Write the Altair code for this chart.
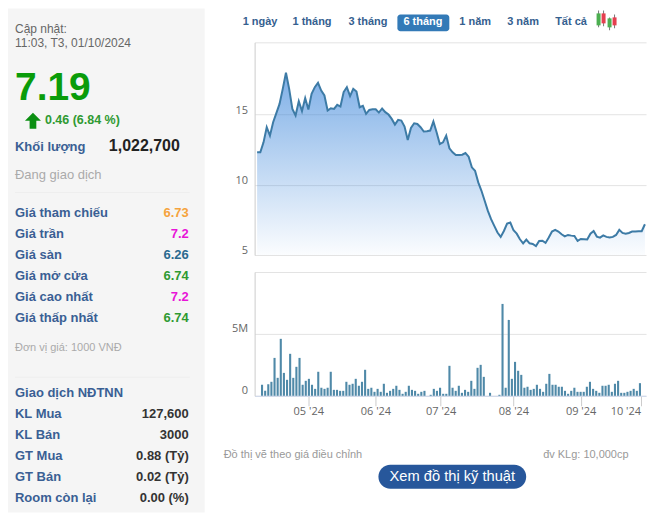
import json
import altair as alt
import pandas as pd

# Price series (thousand VND), one value per trading day
prices = [12.31,12.31,13.02,14.10,13.50,14.45,15.10,15.76,16.83,17.98,
          16.83,15.40,14.93,15.95,15.24,16.17,15.36,16.48,16.95,17.26,
          16.71,16.36,15.29,15.45,15.40,15.69,15.57,16.60,16.95,16.31,
          16.83,16.64,15.52,15.62,15.05,15.33,15.38,15.38,15.14,15.43,
          15.17,15.00,14.69,14.29,14.62,14.57,14.14,13.19,14.05,14.38,
          14.33,14.10,13.79,13.81,13.86,14.50,13.74,12.90,13.02,13.50,
          12.60,12.31,12.12,12.12,12.14,12.26,12.00,11.24,11.00,10.17,
          9.57,8.86,8.14,7.55,7.07,6.60,6.29,6.71,7.24,7.31,
          6.76,6.52,6.12,5.83,6.10,5.83,5.79,5.64,6.00,6.02,
          5.86,6.24,6.67,6.79,6.67,6.48,6.33,6.43,6.38,6.36,
          6.00,6.14,6.12,6.10,6.52,6.71,6.31,6.24,6.40,6.29,
          6.24,6.29,6.43,6.79,6.57,6.52,6.57,6.67,6.67,6.69,
          6.69,7.19]
# Volume (millions of shares)
volumes = [.89,.40,.94,1.13,3.06,1.45,4.60,1.85,1.29,3.39,
           1.45,2.34,3.06,.89,1.21,1.37,.89,.56,1.94,.65,
           .56,.65,1.94,.48,.48,.40,.40,1.13,.89,.97,
           1.37,.81,1.13,2.10,.56,.65,.32,.56,.32,.97,
           .24,.40,.56,.81,.48,.16,.32,.81,.48,.40,
           .16,.32,.40,0,.08,.56,.40,.65,.16,.16,
           2.42,.65,.40,.81,.24,.48,.32,1.21,.56,2.26,
           2.50,1.53,0,.24,0,0,.08,7.42,.65,6.13,
           1.37,2.74,2.02,1.69,.65,.73,.48,.56,.89,.56,
           .32,.97,1.77,.89,.89,.73,.73,.40,.16,.40,
           .65,.32,.32,.32,.73,1.13,.56,.40,.24,.81,
           .81,.89,.32,.97,1.21,.24,.24,.32,.40,.56,
           .40,1.02]
month_ticks = [14.8, 36.3, 57.2, 80.5, 102.0, 121.2]
month_labels = ["05 '24", "06 '24", "07 '24", "08 '24", "09 '24", "10 '24"]
range_buttons = ["1 ngày", "1 tháng", "3 tháng", "6 tháng", "1 năm", "3 năm", "Tất cả"]
price_rows = [("Giá tham chiếu", "6.73", "#f5a33d"), ("Giá trần", "7.2", "#e815d8"),
              ("Giá sàn", "6.26", "#2b6a8f"), ("Giá mở cửa", "6.74", "#2f9a32"),
              ("Giá cao nhất", "7.2", "#e815d8"), ("Giá thấp nhất", "6.74", "#2f9a32")]
foreign_rows = [("KL Mua", "127,600"), ("KL Bán", "3000"), ("GT Mua", "0.88 (Tỷ)"),
                ("GT Bán", "0.02 (Tỷ)"), ("Room còn lại", "0.00 (%)")]

df = pd.DataFrame({"i": range(len(prices)), "price": prices, "floor": [5] * len(prices),
                   "volume": [v * 1e6 for v in volumes]})
one = pd.DataFrame({"a": [0]})
FONT = "Liberation Sans"
BLUE = "#3a5f94"
PW = 392
X_DOMAIN = [-0.78, 121.34]
xs = alt.Scale(domain=X_DOMAIN, nice=False, zero=False)


def txt(s, x, y, color="#333", size=13, weight="normal", align="left", font=FONT):
    return alt.Chart(one).mark_text(align=align, baseline="middle", font=font, fontSize=size,
                                    fontWeight=weight, color=color).encode(
        x=alt.value(x - 8), y=alt.value(y - 8), text=alt.value(s))


def box(x0, x1, y0, y1, color, radius=0, dy=8):
    return alt.Chart(one).mark_bar(color=color, cornerRadius=radius).encode(
        x=alt.value(x0 - 8), x2=alt.value(x1 - 8), y=alt.value(y0 - dy), y2=alt.value(y1 - dy))


arrow = alt.Chart(one).mark_point(
    shape="M 0 -1 L 1 0 L 0.42 0 L 0.42 1 L -0.42 1 L -0.42 0 L -1 0 Z",
    filled=True, size=256, color="#0b8f12", opacity=1).encode(x=alt.value(25), y=alt.value(112.5))

side_layers = [box(8, 205, 8, 513, "#f5f5f5"),
               txt("Cập nhật:", 15, 29, "#666", 12),
               txt("11:03, T3, 01/10/2024", 15, 43, "#666", 12),
               txt("7.19", 15, 88, "#0a9c0a", 39, "bold"),
               arrow,
               txt("0.46 (6.84 %)", 45, 120, "#2f9a32", 12.5, "bold"),
               txt("Khối lượng", 15, 147, BLUE, 13, "bold"),
               txt("1,022,700", 109, 146, "#222", 16, "bold"),
               txt("Đang giao dịch", 15, 175, "#aaa", 13),
               box(15, 190, 192, 193, "#eeeeee"),
               txt("Đơn vị giá: 1000 VNĐ", 15, 348, "#aaa", 11),
               box(15, 190, 377, 378, "#eeeeee"),
               txt("Giao dịch NĐTNN", 15, 393, BLUE, 13, "bold"),
               txt("Đồ thị vẽ theo giá điều chỉnh", 224, 455, "#999", 11)]
for k, (label, val, col) in enumerate(price_rows):
    y = 213 + 21 * k
    side_layers += [txt(label, 15, y, BLUE, 13, "bold"), txt(val, 189, y, col, 13, "bold", "right")]
for k, (label, val) in enumerate(foreign_rows):
    y = 414 + 21 * k
    side_layers += [txt(label, 15, y, BLUE, 13, "bold"), txt(val, 189, y, "#333", 13, "bold", "right")]
side = alt.layer(*side_layers).properties(width=247, height=505)

# Top strip: range buttons and candlestick icon (x relative to the right column)
def rtxt(s, x, y, **kw):
    return txt(s, x - 247, y, **kw)


def rbox(x0, x1, y0, y1, color, radius=0, dy=8):
    return box(x0 - 247, x1 - 247, y0, y1, color, radius, dy)


button_x = [243, 293, 349, 404, 460, 508, 556]
top_layers = [rbox(398, 450, 14, 31, "#337ab7", 3)]
for b, x in zip(range_buttons, button_x):
    top_layers.append(rtxt(b, x, 22, color="#fff" if b == "6 tháng" else "#35608f",
                           size=11, weight="bold"))
for cx, w0, w1, b0, b1, col in [(599, 10, 27, 13, 25, "#4caf50"), (604, 10, 26, 13, 23, "#e53f4f"),
                                (610, 17, 30, 18, 27, "#4caf50"), (615, 14, 28, 17, 25, "#e53f4f")]:
    top_layers.append(rbox(cx, cx + 1, w0, w1, "#777777"))
    top_layers.append(rbox(cx - 1.5, cx + 2.5, b0, b1, col))
top = alt.layer(*top_layers).properties(width=PW, height=17)

label_expr = json.dumps(month_labels) + "[indexof(" + json.dumps(month_ticks) + ", datum.value)]"
price_y = alt.Scale(domain=[5, 20.14], nice=False, zero=False)
price_axis = alt.Axis(values=[5, 10, 15, 20.14], labelExpr="datum.value > 20 ? '' : datum.label",
                      title=None, ticks=False, grid=True, gridColor="#e3e3e3", domainColor="#cccccc",
                      labelFont="Open Sans", labelFontSize=11, labelColor="#666",
                      labelBaseline="alphabetic", labelPadding=7, labelOffset=-1.5)
area = alt.Chart(df).mark_area(
    line=False,
    color=alt.Gradient(gradient="linear", x1=0, x2=0, y1=0, y2=1, stops=[
        alt.GradientStop(color="rgba(47,126,216,0.62)", offset=0),
        alt.GradientStop(color="rgba(47,126,216,0.02)", offset=1)])
).encode(x=alt.X("i:Q", scale=xs, axis=None),
         y=alt.Y("price:Q", scale=price_y, axis=price_axis),
         y2="floor:Q")
line = alt.Chart(df).mark_line(color="#3d7ba6", strokeWidth=2).encode(
    x=alt.X("i:Q", scale=xs, axis=None), y=alt.Y("price:Q", scale=price_y, axis=price_axis))
price_panel = alt.layer(area, line).properties(width=PW, height=213)

vol_axis = alt.Axis(values=[0, 5000000, 10000000],
                    labelExpr="datum.value == 0 ? '0' : datum.value == 5000000 ? '5M' : ''",
                    title=None, ticks=False, grid=True, gridColor="#e3e3e3", domainColor="#cccccc",
                    labelFont="Open Sans", labelFontSize=11, labelColor="#666",
                    labelBaseline="alphabetic", labelPadding=7, labelOffset=-2)
x_axis = alt.Axis(values=month_ticks, labelExpr=label_expr, title=None, grid=False,
                  tickColor="#cccccc", tickSize=10, domainColor="#ccd6eb",
                  labelFont="Open Sans", labelFontSize=11, labelColor="#666", labelPadding=0,
                  labelAlign={"condition": {"test": "datum.value > 120", "value": "right"},
                              "value": "center"},
                  labelFlush=False, labelOverlap=False)
vol_panel = alt.Chart(df).mark_bar(color="#4f89a8", size=2.1).encode(
    x=alt.X("i:Q", scale=xs, axis=x_axis),
    y=alt.Y("volume:Q", scale=alt.Scale(domain=[0, 10000000], nice=False), axis=vol_axis)
).properties(width=PW, height=124)

# Footer (y relative to its own panel, which starts at page y=413)
foot = alt.layer(
    txt("đv KLg: 10,000cp", 544 - 247, 455 - 405, color="#999", size=11),
    box(379 - 247, 527 - 247, 465, 489, "#27579b", 12, dy=413),
    txt("Xem đồ thị kỹ thuật", 453 - 247, 477 - 405, color="#fff", size=14.7, align="center"),
).properties(width=PW, height=92)

right = alt.vconcat(top, price_panel, vol_panel, foot, spacing=17, bounds="flush")
chart = alt.hconcat(side, right, spacing=0, bounds="flush").properties(
    padding=0, background="#ffffff"
).configure_view(stroke=None)

chart.save("out.html", embed_options={"renderer": "svg", "actions": False})
